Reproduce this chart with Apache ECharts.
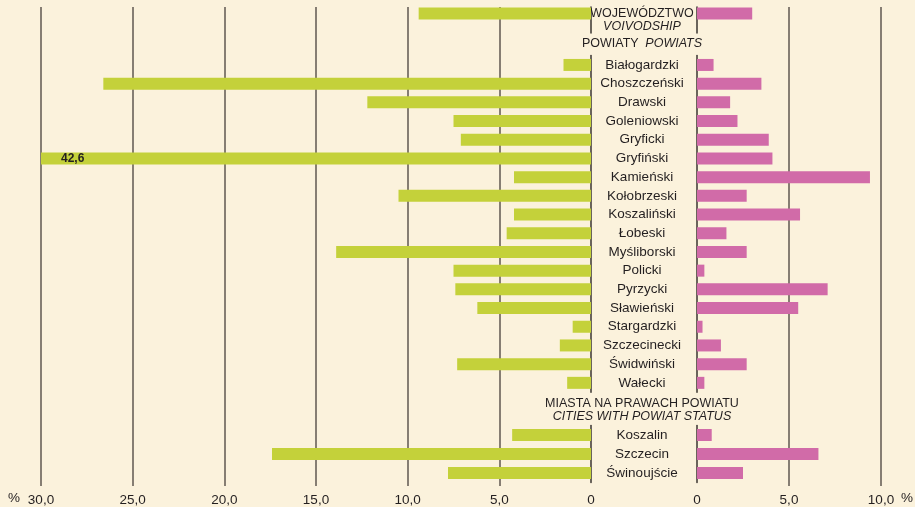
<!DOCTYPE html>
<html>
<head>
<meta charset="utf-8">
<script src="https://cdn.jsdelivr.net/npm/echarts@6/dist/echarts.min.js"></script>
<style>
	html, body { margin: 0; padding: 0; background: #fbf2dc; }
	#chart { width: 915px; height: 507px; }
</style>
</head>
<body>
<div id="chart"></div>
<script>
// data
var voivCategories = ['WOJEWÓDZTWO', 'VOIVODSHIP'];
var voivLeft = [9.4, null];
var voivRight = [3.0, null];

var powiats = ['Białogardzki', 'Choszczeński', 'Drawski', 'Goleniowski', 'Gryficki', 'Gryfiński',
	'Kamieński', 'Kołobrzeski', 'Koszaliński', 'Łobeski', 'Myśliborski', 'Policki', 'Pyrzycki',
	'Sławieński', 'Stargardzki', 'Szczecinecki', 'Świdwiński', 'Wałecki'];
var powiatLeft = [1.5, 26.6, 12.2, 7.5, 7.1, 42.6, 4.2, 10.5, 4.2, 4.6, 13.9, 7.5, 7.4, 6.2, 1.0, 1.7, 7.3, 1.3];
var powiatRight = [0.9, 3.5, 1.8, 2.2, 3.9, 4.1, 9.4, 2.7, 5.6, 1.6, 2.7, 0.4, 7.1, 5.5, 0.3, 1.3, 2.7, 0.4];

var cities = ['Koszalin', 'Szczecin', 'Świnoujście'];
var cityLeft = [4.3, 17.4, 7.8];
var cityRight = [0.8, 6.6, 2.5];

var leftMax = 30;
var rightMax = 10;

var FONT = '"Liberation Sans", Arial, sans-serif';
var TEXT = '#231f20';
var GREEN = '#c4d13a';
var PINK = '#d16ba8';
var GRID_LINE = '#5f5750';

function fmtTick(v) {
	if (v === 0) return '0';
	return v.toFixed(1).replace('.', ',');
}

// values above the axis max get a label with the real value
function leftData(arr) {
	return arr.map(function (v) {
		if (v != null && v > leftMax) {
			return {
				value: v,
				label: {
					show: true,
					position: 'insideLeft',
					distance: 20,
					formatter: fmtTick(v),
					fontFamily: FONT,
					fontWeight: 'bold',
					fontSize: 12,
					color: TEXT
				}
			};
		}
		return v;
	});
}

var chart = echarts.init(document.getElementById('chart'));

var grids = [
	// background grids: split lines and tick labels
	{ left: 41, width: 550, top: 7, height: 483 },
	{ left: 697, width: 184, top: 7, height: 483 },
	// voivodship
	{ left: 41, width: 550, top: 7, height: 26 },
	{ left: 697, width: 184, top: 7, height: 26 },
	// powiats
	{ left: 41, width: 550, top: 55.6, height: 336.6 },
	{ left: 697, width: 184, top: 55.6, height: 336.6 },
	// cities
	{ left: 41, width: 550, top: 425.5, height: 57 },
	{ left: 697, width: 184, top: 425.5, height: 57 }
];

var xAxes = [];
var yAxes = [];
grids.forEach(function (g, i) {
	var isLeft = i % 2 === 0;
	var isBg = i < 2;
	var splitColors = [];
	var n = (isLeft ? leftMax : rightMax) / 5 + 1;
	for (var k = 0; k < n; k++) splitColors.push(k === 0 ? 'rgba(0,0,0,0)' : GRID_LINE);
	xAxes.push({
		gridIndex: i,
		type: 'value',
		min: 0,
		max: isLeft ? leftMax : rightMax,
		interval: 5,
		inverse: isLeft,
		show: isBg,
		axisLine: { show: false },
		axisTick: { show: false },
		axisLabel: {
			show: isBg,
			margin: 7,
			fontFamily: FONT,
			fontSize: 13.5,
			color: TEXT,
			formatter: fmtTick
		},
		splitLine: {
			show: isBg,
			lineStyle: { color: splitColors, width: 1.5 }
		}
	});
});

// background y axes (hidden)
yAxes.push({ gridIndex: 0, type: 'value', show: false });
yAxes.push({ gridIndex: 1, type: 'value', show: false });

function catAxis(gridIndex, cats, isLeft, fontSize) {
	return {
		gridIndex: gridIndex,
		type: 'category',
		data: cats,
		inverse: true,
		position: isLeft ? 'right' : 'left',
		axisLine: { show: true, lineStyle: { color: '#3a3530', width: 1.5 } },
		axisTick: { show: false },
		splitLine: { show: false },
		axisLabel: {
			show: !isLeft,
			interval: 0,
			margin: 55,
			align: 'center',
			fontFamily: FONT,
			fontSize: fontSize,
			color: TEXT,
			formatter: function (v, idx) {
				if (cats === voivCategories && idx === 1) return '{it|' + v + '}';
				return v;
			},
			rich: {
				it: { fontStyle: 'italic', fontFamily: FONT, fontSize: fontSize, color: TEXT }
			}
		}
	};
}

yAxes.push(catAxis(2, voivCategories, true, 12.5));
yAxes.push(catAxis(3, voivCategories, false, 12.5));
yAxes.push(catAxis(4, powiats, true, 13.5));
yAxes.push(catAxis(5, powiats, false, 13.5));
yAxes.push(catAxis(6, cities, true, 13.5));
yAxes.push(catAxis(7, cities, false, 13.5));

function barSeries(idx, data, color) {
	return {
		type: 'bar',
		xAxisIndex: idx,
		yAxisIndex: idx,
		data: data,
		barWidth: 12,
		clip: true,
		itemStyle: { color: color },
		silent: true
	};
}

var option = {
	backgroundColor: '#fbf2dc',
	animation: false,
	textStyle: { fontFamily: FONT },
	grid: grids,
	xAxis: xAxes,
	yAxis: yAxes,
	series: [
		barSeries(2, leftData(voivLeft), GREEN),
		barSeries(3, voivRight, PINK),
		barSeries(4, leftData(powiatLeft), GREEN),
		barSeries(5, powiatRight, PINK),
		barSeries(6, leftData(cityLeft), GREEN),
		barSeries(7, cityRight, PINK)
	],
	graphic: [
		{
			type: 'text', x: 642, y: 44,
			style: {
				text: '{n|POWIATY}  {i|POWIATS}',
				align: 'center', verticalAlign: 'middle',
				rich: {
					n: { fontFamily: FONT, fontSize: 12.5, fill: TEXT },
					i: { fontFamily: FONT, fontSize: 12.5, fontStyle: 'italic', fill: TEXT }
				}
			}
		},
		{
			type: 'text', x: 642, y: 404,
			style: { text: 'MIASTA NA PRAWACH POWIATU', align: 'center', verticalAlign: 'middle',
				fontFamily: FONT, fontSize: 12.5, fill: TEXT }
		},
		{
			type: 'text', x: 642, y: 417,
			style: { text: 'CITIES WITH POWIAT STATUS', align: 'center', verticalAlign: 'middle',
				fontFamily: FONT, fontSize: 12.5, fontStyle: 'italic', fill: TEXT }
		},
		{
			type: 'text', x: 14, y: 498,
			style: { text: '%', align: 'center', verticalAlign: 'middle',
				fontFamily: FONT, fontSize: 13.5, fill: TEXT }
		},
		{
			type: 'text', x: 907, y: 498,
			style: { text: '%', align: 'center', verticalAlign: 'middle',
				fontFamily: FONT, fontSize: 13.5, fill: TEXT }
		}
	]
};

chart.setOption(option);
</script>
</body>
</html>
